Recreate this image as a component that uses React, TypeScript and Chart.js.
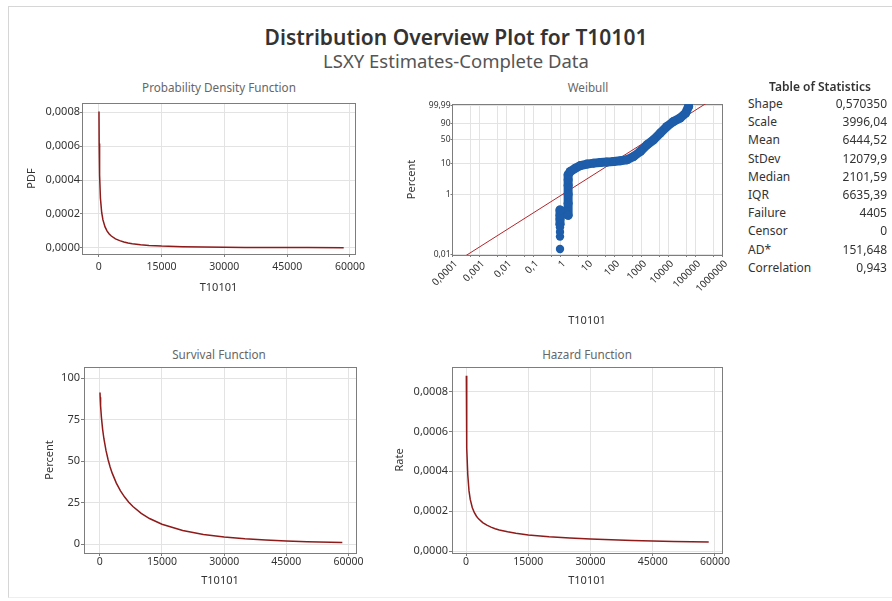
import React, { useEffect, useRef } from 'react';
import { Chart, registerables } from 'chart.js';

Chart.register(...registerables);

const FONT = '"Noto Sans", "Open Sans", "DejaVu Sans", sans-serif';
const TEXT = '#333333';
const SUBTEXT = '#666666';
const GRID = '#e3e3e3';
const FRAME = '#7d7d7d';
const CURVE = '#8e1a1a';
const FIT = '#b3262a';
const BLUE = '#1d5da9';

// ---- Fitted curves, read at these T10101 values ----
const timeX = [58, 100, 200, 400, 700, 1000, 1500, 2000, 2500, 3000, 4000, 5000, 6000, 7000, 8000, 10000, 12000, 15000, 20000, 25000, 30000, 35000, 40000, 45000, 50000, 58500];
const pdfY = [0.0008044, 0.00061608, 0.00043112, 0.00029316, 0.00020833, 0.00016441, 0.00012274, 0.00009796, 0.000081224, 0.000069061, 0.000052456, 0.00004161, 0.000033968, 0.000028315, 0.000023974, 0.000017805, 0.000013684, 0.0000096418, 0.0000058324, 0.0000037721, 0.0000025534, 0.0000017881, 0.0000012854, 0.00000094341, 0.00000070457, 0.00000044332];
const survivalY = [91.44, 88.51, 83.42, 76.41, 69.05, 63.52, 56.45, 50.98, 46.52, 42.78, 36.77, 32.1, 28.34, 25.24, 22.63, 18.5, 15.38, 11.93, 8.16, 5.81, 4.25, 3.18, 2.42, 1.87, 1.46, 0.98];
const hazardY = [0.00087967, 0.00069605, 0.00051678, 0.00038369, 0.00030169, 0.00025883, 0.00021745, 0.00019217, 0.0001746, 0.00016144, 0.00014267, 0.00012963, 0.00011986, 0.00011218, 0.00010592, 0.000096243, 0.000088991, 0.000080854, 0.000071454, 0.000064922, 0.00006003, 0.000056183, 0.00005305, 0.000050431, 0.000048199, 0.000045054];

// ---- Tick values / labels ----
const xTicks = [0, 15000, 30000, 45000, 60000];
const xTickLabels = ['0', '15000', '30000', '45000', '60000'];
const rateTicks = [0, 0.0002, 0.0004, 0.0006, 0.0008];
const rateTickLabels = ['0,0000', '0,0002', '0,0004', '0,0006', '0,0008'];
const survTicks = [0, 25, 50, 75, 100];
const survTickLabels = ['0', '25', '50', '75', '100'];

const wbXTicks = [0.0001, 0.001, 0.01, 0.1, 1, 10, 100, 1000, 10000, 100000, 1000000];
const wbXTickLabels = ['0,0001', '0,001', '0,01', '0,1', '1', '10', '100', '1000', '10000', '100000', '1000000'];
const wbXMinor = [0.0005, 0.005, 0.05, 0.5, 5, 50, 500, 5000, 50000, 500000];
const wbYTicks = [0.01, 1, 10, 50, 90, 99.99];
const wbYTickLabels = ['0,01', '1', '10', '50', '90', '99,99'];

// ---- Weibull probability plot points (T10101, percent) ----
const wbIsoX = [1, 1, 1, 1];
const wbIsoP = [0.015, 0.039, 0.056, 0.08];
const wbBandX = [1, 1, 1, 1, 2, 2, 2, 2, 2, 2, 2.4, 3.7, 5.7, 10, 17.6, 31, 55, 97, 171, 303, 531, 938, 1660, 2910, 5150, 9120, 15960, 28200, 45000, 58000];
const wbBandP = [0.1, 0.15, 0.2, 0.3, 0.2, 0.5, 1, 2, 3, 4.4, 5.6, 7.2, 8.7, 9.7, 10.4, 10.9, 11.2, 11.7, 12.3, 13.2, 16.7, 23.5, 36.1, 48.2, 66.8, 84.0, 93.2, 97.0, 99.4, 99.98];
const fitX = [0.0003, 300000];
const fitP = [0.00865, 99.9992];

// ---- Table of statistics ----
const statNames = ['Shape', 'Scale', 'Mean', 'StDev', 'Median', 'IQR', 'Failure', 'Censor', 'AD*', 'Correlation'];
const statValues = ['0,570350', '3996,04', '6444,52', '12079,9', '2101,59', '6635,39', '4405', '0', '151,648', '0,943'];

const wb = (p: number) => Math.log(-Math.log(1 - p / 100));

const framePlugin = {
  id: 'frameBox',
  beforeDatasetsDraw(chart: any) {
    const { ctx, chartArea: a } = chart;
    ctx.save();
    ctx.strokeStyle = FRAME;
    ctx.lineWidth = 1;
    const l = Math.round(a.left) + 0.5;
    const t = Math.round(a.top) + 0.5;
    ctx.strokeRect(l, t, Math.round(a.right) - Math.round(a.left), Math.round(a.bottom) - Math.round(a.top));
    ctx.restore();
  },
};

function fixedTicks(values: number[]) {
  return (axis: any) => {
    axis.ticks = values.map((v) => ({ value: v }));
  };
}
function labelFrom(values: number[], labels: string[]) {
  return (v: any) => {
    const n = Number(v);
    const i = values.findIndex((t) => Math.abs(t - n) <= Math.abs(t) * 1e-7 + 1e-12);
    return i >= 0 ? labels[i] : '';
  };
}

function base(padTop: number, padRight: number) {
  return {
    responsive: false,
    maintainAspectRatio: false,
    animation: false,
    events: [],
    layout: { padding: { top: padTop, right: padRight, left: 0, bottom: 0 } },
    plugins: { legend: { display: false }, tooltip: { enabled: false }, title: { display: false } },
  };
}

type Box = { left: number; top: number; width: number; height: number };

function curveConfig(o: any) {
  return {
    type: 'line',
    data: {
      datasets: [
        {
          data: timeX.map((x, i) => ({ x, y: o.yVals[i] })),
          borderColor: CURVE,
          borderWidth: 1.5,
          pointRadius: 0,
          tension: 0,
          fill: false,
        },
      ],
    },
    options: {
      ...base(o.padTop, o.padRight),
      scales: {
        x: {
          type: 'linear',
          min: o.xMin,
          max: o.xMax,
          afterBuildTicks: fixedTicks(xTicks),
          afterFit: (s: any) => {
            s.height = o.xHeight;
          },
          ticks: {
            autoSkip: false,
            maxRotation: 0,
            minRotation: 0,
            padding: o.xTickPad,
            color: TEXT,
            font: { family: FONT, size: 10.5 },
            callback: labelFrom(xTicks, xTickLabels),
          },
          grid: { color: GRID, tickColor: FRAME, tickLength: 3 },
          border: { display: false },
          title: { display: true, text: 'T10101', color: TEXT, font: { family: FONT, size: 11 }, padding: { top: 0, bottom: o.xTitlePad } },
        },
        y: {
          type: 'linear',
          min: o.yMin,
          max: o.yMax,
          afterBuildTicks: fixedTicks(o.yTicks),
          afterFit: (s: any) => {
            s.width = o.yWidth;
          },
          ticks: {
            autoSkip: false,
            padding: o.yTickPad,
            color: TEXT,
            font: { family: FONT, size: 11 },
            callback: labelFrom(o.yTicks, o.yLabels),
          },
          grid: { color: GRID, tickColor: FRAME, tickLength: o.yTickLen },
          border: { display: false },
          title: { display: true, text: o.yTitle, color: TEXT, font: { family: FONT, size: 11 }, padding: { top: o.yTitlePad, bottom: 0 } },
        },
      },
    },
    plugins: [framePlugin],
  };
}

function weibullConfig() {
  const allX = [...wbXTicks, ...wbXMinor].sort((a, b) => a - b);
  const yT = wbYTicks.map(wb);
  return {
    type: 'line',
    data: {
      datasets: [
        {
          data: fitX.map((x, i) => ({ x, y: wb(fitP[i]) })),
          borderColor: FIT,
          borderWidth: 1,
          pointRadius: 0,
          tension: 0,
          order: 2,
        },
        {
          data: wbIsoX.map((x, i) => ({ x, y: wb(wbIsoP[i]) })),
          showLine: false,
          pointRadius: 4.2,
          pointBackgroundColor: BLUE,
          pointBorderWidth: 0,
          borderColor: BLUE,
          order: 1,
        },
        {
          data: wbBandX.map((x, i) => ({ x, y: wb(wbBandP[i]) })),
          borderColor: BLUE,
          borderWidth: 9,
          borderCapStyle: 'round',
          borderJoinStyle: 'round',
          pointRadius: 4.5,
          pointBackgroundColor: BLUE,
          pointBorderWidth: 0,
          tension: 0,
          order: 1,
        },
      ],
    },
    options: {
      ...base(10, 10),
      scales: {
        x: {
          type: 'logarithmic',
          min: 0.0001,
          max: 1000000,
          afterBuildTicks: fixedTicks(allX),
          afterFit: (s: any) => {
            s.height = 80;
          },
          ticks: {
            autoSkip: false,
            minRotation: 45,
            maxRotation: 45,
            padding: 1,
            labelOffset: 4,
            color: TEXT,
            font: { family: FONT, size: 10 },
            callback: labelFrom(wbXTicks, wbXTickLabels),
          },
          grid: { color: GRID, tickColor: FRAME, tickLength: 2 },
          border: { display: false },
          title: { display: true, text: 'T10101', color: TEXT, font: { family: FONT, size: 11 }, padding: { top: 0, bottom: 7.4 } },
        },
        y: {
          type: 'linear',
          min: -9.26,
          max: 2.33,
          afterBuildTicks: fixedTicks(yT),
          afterFit: (s: any) => {
            s.width = 72;
          },
          ticks: {
            autoSkip: false,
            padding: 0,
            color: TEXT,
            font: { family: FONT, size: 8.5 },
            callback: labelFrom(yT, wbYTickLabels),
          },
          grid: { color: GRID, tickColor: FRAME, tickLength: 1.5 },
          border: { display: false },
          title: { display: true, text: 'Percent', color: TEXT, font: { family: FONT, size: 11 }, padding: { top: 25.4, bottom: 0 } },
        },
      },
    },
    plugins: [framePlugin],
  };
}

function ChartCanvas({ box, make }: { box: Box; make: () => any }) {
  const ref = useRef<HTMLCanvasElement>(null);
  useEffect(() => {
    if (!ref.current) return;
    const chart = new Chart(ref.current, make());
    return () => chart.destroy();
  }, []);
  return (
    <canvas
      ref={ref}
      width={box.width}
      height={box.height}
      style={{ position: 'absolute', left: box.left, top: box.top, width: box.width, height: box.height }}
    />
  );
}

function Label({ x, y, text, size, weight = 400, color = TEXT, align = 'center' }: any) {
  const lh = Math.round(size * 1.3);
  const style: any = {
    position: 'absolute',
    top: y - lh / 2,
    height: lh,
    lineHeight: lh + 'px',
    fontSize: size,
    fontWeight: weight,
    color,
    whiteSpace: 'nowrap',
    fontFamily: FONT,
  };
  if (align === 'center') {
    style.left = x - 300;
    style.width = 600;
    style.textAlign = 'center';
  } else if (align === 'left') {
    style.left = x;
  } else {
    style.left = x - 300;
    style.width = 300;
    style.textAlign = 'right';
  }
  return <div style={style}>{text}</div>;
}

export default function App() {
  return (
    <div style={{ position: 'fixed', left: 0, top: 0, width: 892, height: 601, background: '#ffffff', overflow: 'hidden' }}>
      <div
        style={{
          position: 'absolute',
          left: 8,
          top: 6,
          width: 884,
          height: 590,
          borderTop: '1px solid #d6d6d6',
          borderLeft: '1px solid #d6d6d6',
          borderBottom: '1px solid #eeeeee',
        }}
      />
      <Label x={456} y={37} text="Distribution Overview Plot for T10101" size={21} weight={600} color="#333333" />
      <Label x={456} y={61} text="LSXY Estimates-Complete Data" size={18.5} color="#555555" />

      <Label x={219} y={87} text="Probability Density Function" size={11.7} color={SUBTEXT} />
      <Label x={588} y={87} text="Weibull" size={11.7} color={SUBTEXT} />
      <Label x={219} y={354} text="Survival Function" size={11.7} color={SUBTEXT} />
      <Label x={587} y={354} text="Hazard Function" size={11.7} color={SUBTEXT} />

      <ChartCanvas
        box={{ left: 10, top: 93, width: 370, height: 207 }}
        make={() =>
          curveConfig({
            yVals: pdfY, yTicks: rateTicks, yLabels: rateTickLabels, yMin: -0.0000372, yMax: 0.000855,
            xMin: -4000, xMax: 61200, yTitle: 'PDF', padTop: 10, padRight: 25, yWidth: 72, xHeight: 46,
            yTitlePad: 15.4, xTitlePad: 5.4, xTickPad: 3.4, yTickPad: 0, yTickLen: 2,
          })
        }
      />
      <ChartCanvas box={{ left: 380, top: 94, width: 352, height: 241 }} make={weibullConfig} />
      <ChartCanvas
        box={{ left: 10, top: 357, width: 370, height: 242 }}
        make={() =>
          curveConfig({
            yVals: survivalY, yTicks: survTicks, yLabels: survTickLabels, yMin: -5.4, yMax: 106.8,
            xMin: -3800, xMax: 61800, yTitle: 'Percent', padTop: 10, padRight: 24, yWidth: 74, xHeight: 46,
            yTitlePad: 33.4, xTitlePad: 11.4, xTickPad: 0, yTickPad: 1, yTickLen: 3,
          })
        }
      />
      <ChartCanvas
        box={{ left: 380, top: 357, width: 352, height: 242 }}
        make={() =>
          curveConfig({
            yVals: hazardY, yTicks: rateTicks, yLabels: rateTickLabels, yMin: -0.00001, yMax: 0.000924,
            xMin: -3400, xMax: 61700, yTitle: 'Rate', padTop: 10, padRight: 10, yWidth: 72, xHeight: 46,
            yTitlePad: 13.4, xTitlePad: 11.4, xTickPad: 0, yTickPad: 1, yTickLen: 3,
          })
        }
      />

      <Label x={820} y={87} text="Table of Statistics" size={12} weight={600} color="#333333" />
      {statNames.map((n, i) => (
        <Label key={'n' + i} x={748} y={104 + i * 18.2} text={n} size={12} align="left" color="#333333" />
      ))}
      {statValues.map((v, i) => (
        <Label key={'v' + i} x={887} y={104 + i * 18.2} text={v} size={12} align="right" color="#333333" />
      ))}
    </div>
  );
}
